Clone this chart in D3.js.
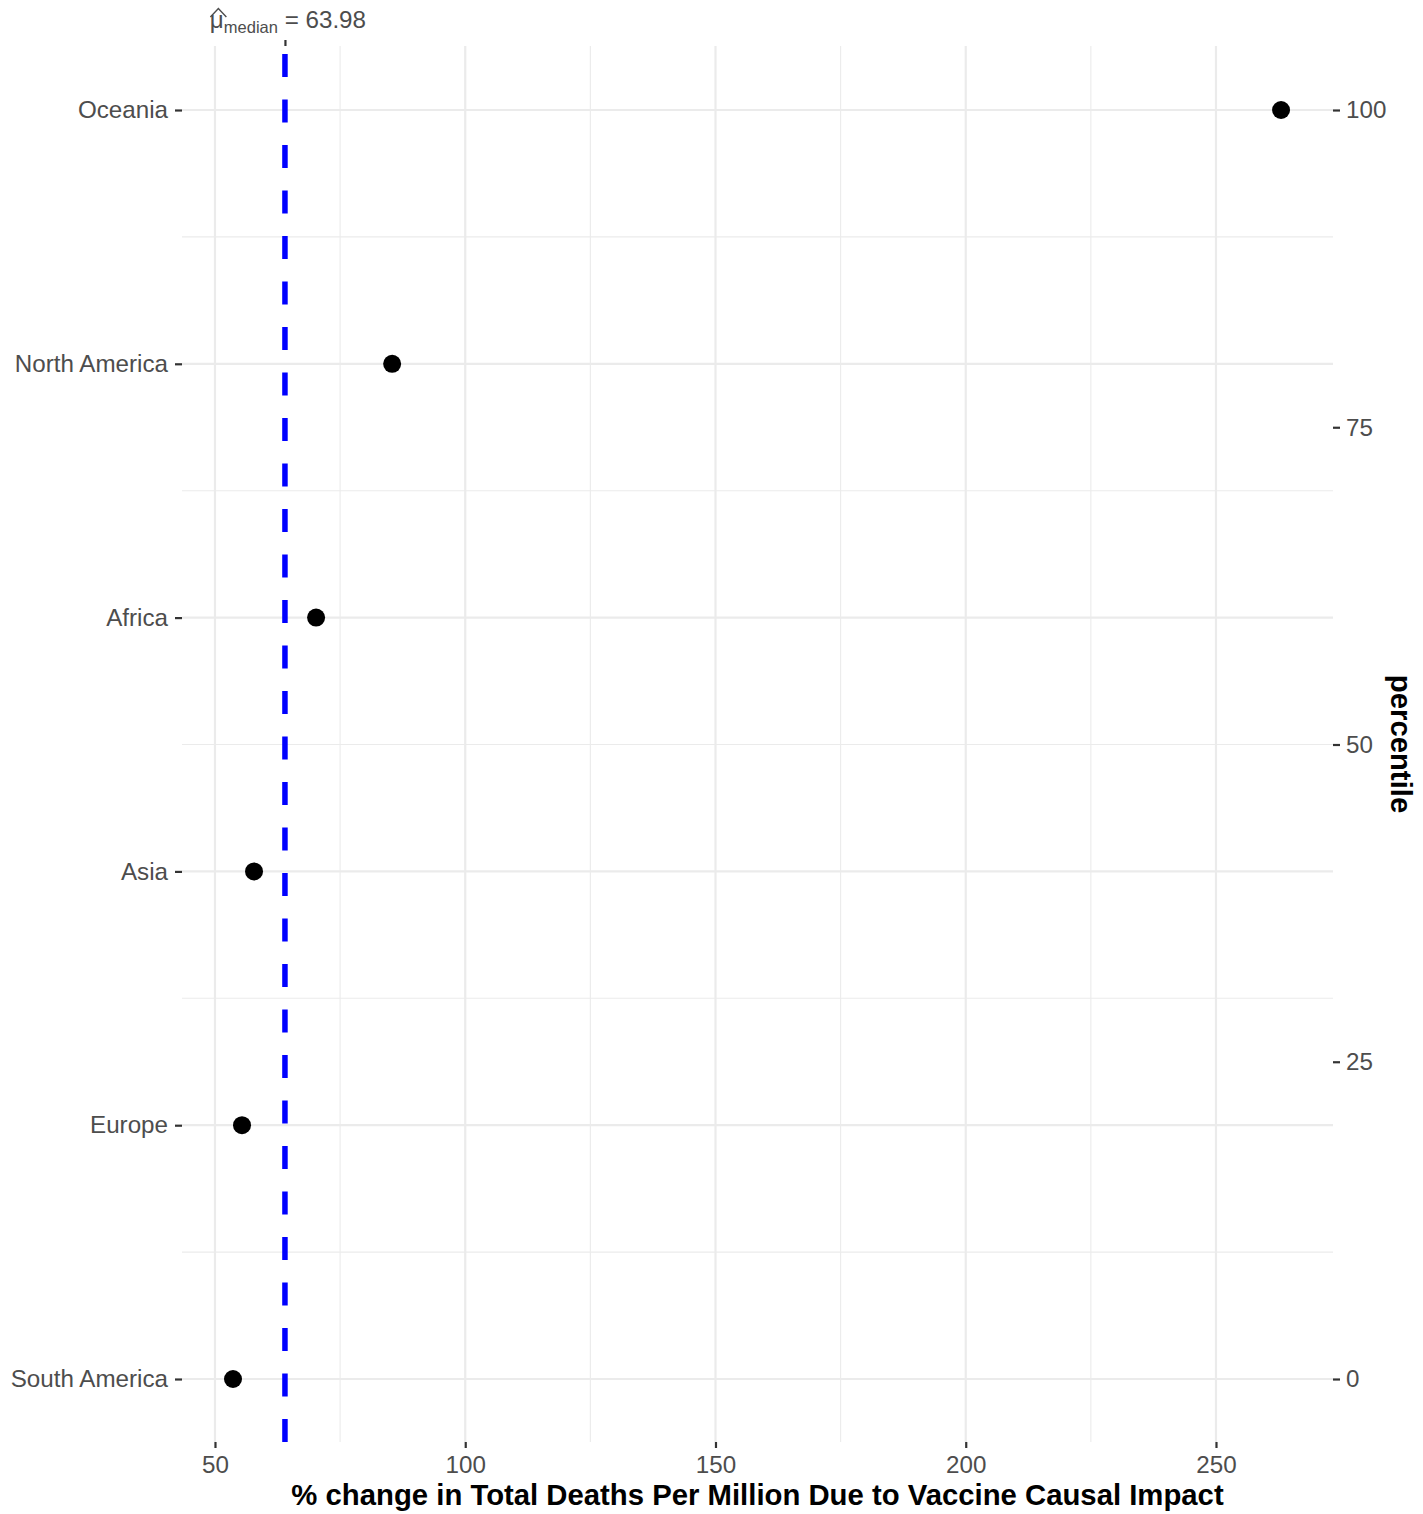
<!DOCTYPE html>
<html>
<head>
<meta charset="utf-8">
<script src="https://cdn.jsdelivr.net/npm/d3@7"></script>
<style>
  body { margin: 0; background: #fff; }
  text { font-family: "Liberation Sans", Arial, Helvetica, sans-serif; }
</style>
</head>
<body>
<svg id="chart" width="1423" height="1514"></svg>
<script>
// ---- data ----
const categories = ["South America", "Europe", "Asia", "Africa", "North America", "Oceania"];
const values = [53.6, 55.4, 57.8, 70.2, 85.4, 263.0];
const xTicks = [50, 100, 150, 200, 250];
const xMinorTicks = [75, 125, 175, 225];
const percentileTicks = [0, 25, 50, 75, 100];
const medianValue = 63.98;
const xTitle = "% change in Total Deaths Per Million Due to Vaccine Causal Impact";
const yRightTitle = "percentile";

// ---- layout ----
const panel = { left: 182, right: 1333, top: 46, bottom: 1442 };
const svg = d3.select("#chart");

const x = d3.scaleLinear().domain([43.41, 273.38]).range([panel.left, panel.right]);
const yCat = d3.scalePoint().domain(categories).range([1379, 110]);
const yPct = d3.scaleLinear().domain([0, 100]).range([1379, 110]);

const grid = svg.append("g");
grid.selectAll(".vminor").data(xMinorTicks).join("line")
  .attr("x1", d => x(d)).attr("x2", d => x(d))
  .attr("y1", panel.top).attr("y2", panel.bottom)
  .attr("stroke", "#ebebeb").attr("stroke-width", 1.1);
const catPos = categories.map(c => yCat(c));
const hMinor = catPos.slice(1).map((p, i) => (p + catPos[i]) / 2);
grid.selectAll(".hminor").data(hMinor).join("line")
  .attr("x1", panel.left).attr("x2", panel.right)
  .attr("y1", d => d).attr("y2", d => d)
  .attr("stroke", "#ebebeb").attr("stroke-width", 1.1);
grid.selectAll(".vmajor").data(xTicks).join("line")
  .attr("x1", d => x(d)).attr("x2", d => x(d))
  .attr("y1", panel.top).attr("y2", panel.bottom)
  .attr("stroke", "#ebebeb").attr("stroke-width", 2.2);
grid.selectAll(".hmajor").data(categories).join("line")
  .attr("x1", panel.left).attr("x2", panel.right)
  .attr("y1", d => yCat(d)).attr("y2", d => yCat(d))
  .attr("stroke", "#ebebeb").attr("stroke-width", 2.2);

svg.append("line")
  .attr("x1", x(medianValue)).attr("x2", x(medianValue))
  .attr("y1", panel.bottom).attr("y2", panel.top)
  .attr("stroke", "#0000ff").attr("stroke-width", 5.5)
  .attr("stroke-dasharray", "23,22.5");

svg.selectAll(".pt").data(categories).join("circle")
  .attr("cx", (d, i) => x(values[i]))
  .attr("cy", d => yCat(d))
  .attr("r", 9)
  .attr("fill", "#000");

const tickColor = "#333333", labColor = "#4d4d4d", fs = 24.2;
const ff = "Liberation Sans, Arial, sans-serif";

const bx = svg.append("g").attr("transform", `translate(0,${panel.bottom})`)
  .call(d3.axisBottom(x).tickValues(xTicks).tickSize(6).tickPadding(8).tickFormat(d3.format("d")));
bx.select(".domain").remove();
bx.selectAll(".tick line").attr("stroke", tickColor).attr("stroke-width", 2.2);
bx.selectAll(".tick text").attr("fill", labColor).attr("font-size", fs).attr("font-family", ff);

const lx = svg.append("g").attr("transform", `translate(${panel.left},0)`)
  .call(d3.axisLeft(yCat).tickSize(7).tickPadding(7));
lx.select(".domain").remove();
lx.selectAll(".tick line").attr("stroke", tickColor).attr("stroke-width", 2.2);
lx.selectAll(".tick text").attr("fill", labColor).attr("font-size", fs).attr("font-family", ff);

const rx = svg.append("g").attr("transform", `translate(${panel.right},0)`)
  .call(d3.axisRight(yPct).tickValues(percentileTicks).tickSize(7).tickPadding(6).tickFormat(d3.format("d")));
rx.select(".domain").remove();
rx.selectAll(".tick line").attr("stroke", tickColor).attr("stroke-width", 2.2);
rx.selectAll(".tick text").attr("fill", labColor).attr("font-size", fs).attr("font-family", ff);

const tx = svg.append("g").attr("transform", `translate(0,${panel.top})`)
  .call(d3.axisTop(x).tickValues([medianValue]).tickSize(6).tickFormat(() => ""));
tx.select(".domain").remove();
tx.selectAll(".tick line").attr("stroke", tickColor).attr("stroke-width", 2.2);

const mx = x(medianValue);
const ml = svg.append("text").attr("y", 28).attr("fill", labColor)
  .attr("font-size", fs).attr("text-anchor", "middle").attr("x", mx + 3);
ml.append("tspan").text("\u03BC");
ml.append("tspan").attr("font-size", 16.5).attr("dy", 5).text("median");
ml.append("tspan").attr("dy", -5).text(" = " + medianValue.toFixed(2));
const bb = ml.node().getBBox();
const muX = bb.x;
svg.append("path")
  .attr("d", `M${muX + 0.5},17 L${muX + 8.5},8.5 L${muX + 16.5},17`)
  .attr("fill", "none").attr("stroke", labColor).attr("stroke-width", 1.4);

svg.append("text").attr("x", (panel.left + panel.right) / 2).attr("y", 1505)
  .attr("text-anchor", "middle").attr("font-weight", "bold").attr("font-size", 29.3)
  .attr("fill", "#000").text(xTitle);
svg.append("text")
  .attr("transform", `translate(1391,${(panel.top + panel.bottom) / 2}) rotate(90)`)
  .attr("text-anchor", "middle").attr("font-weight", "bold").attr("font-size", 29.3)
  .attr("fill", "#000").text(yRightTitle);
</script>
</body>
</html>
